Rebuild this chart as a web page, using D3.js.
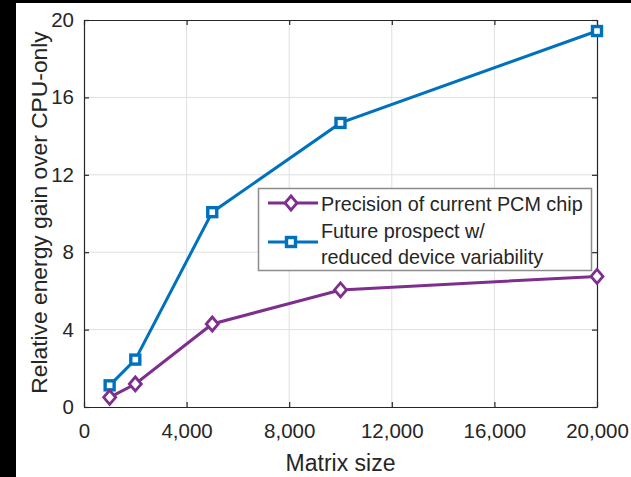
<!DOCTYPE html>
<html>
<head>
<meta charset="utf-8">
<script src="https://cdn.jsdelivr.net/npm/d3@7"></script>
<style>
  html, body { margin: 0; padding: 0; background: #000; }
  svg { display: block; }
  text { font-family: "Liberation Sans", Arial, Helvetica, sans-serif; fill: #262626; }
</style>
</head>
<body>
<script>
// Matrix sizes and the two energy-gain series
const matrixSizes = [1000, 2000, 5000, 10000, 20000];
const currentChip = [0.50, 1.19, 4.29, 6.05, 6.75];
const futureProspect = [1.12, 2.45, 10.07, 14.68, 19.43];
const xTicks = [0, 4000, 8000, 12000, 16000, 20000];
const yTicks = [0, 4, 8, 12, 16, 20];
const seriesNames = ["Precision of current PCM chip", ["Future prospect w/", "reduced device variability"]];

const W = 631, H = 477;
const svg = d3.select("body").append("svg").attr("width", W).attr("height", H);

// white canvas with dark strips at the left and top
svg.append("rect").attr("x", 0).attr("y", 0).attr("width", W).attr("height", H).attr("fill", "#000");
svg.append("rect").attr("x", 16).attr("y", 3).attr("width", W - 16).attr("height", H - 3).attr("fill", "#fff");

const L = 84, R = 597, T = 20, B = 407;
const x = d3.scaleLinear().domain([0, 20000]).range([L, R]);
const y = d3.scaleLinear().domain([0, 20]).range([B, T]);

// grid
const grid = svg.append("g").attr("stroke", "#dfdfdf").attr("stroke-width", 1);
xTicks.slice(1, -1).forEach(t => grid.append("line").attr("x1", x(t)).attr("x2", x(t)).attr("y1", T).attr("y2", B));
yTicks.slice(1, -1).forEach(t => grid.append("line").attr("x1", L).attr("x2", R).attr("y1", y(t)).attr("y2", y(t)));

// axes with inward ticks on all four sides
const fmt = d3.format(",");
const axB = svg.append("g").attr("transform", `translate(0,${B})`)
  .call(d3.axisBottom(x).tickValues(xTicks).tickFormat(fmt).tickSizeInner(-5).tickSizeOuter(0).tickPadding(16));
const axT = svg.append("g").attr("transform", `translate(0,${T})`)
  .call(d3.axisTop(x).tickValues(xTicks).tickFormat("").tickSizeInner(-5).tickSizeOuter(0));
const axL = svg.append("g").attr("transform", `translate(${L},0)`)
  .call(d3.axisLeft(y).tickValues(yTicks).tickSizeInner(-5).tickSizeOuter(0).tickPadding(10));
const axR = svg.append("g").attr("transform", `translate(${R},0)`)
  .call(d3.axisRight(y).tickValues(yTicks).tickFormat("").tickSizeInner(-5).tickSizeOuter(0));
[axB, axT, axL, axR].forEach(a => {
  a.selectAll(".domain").attr("stroke", "#262626").attr("stroke-width", 1.2);
  a.selectAll(".tick line").attr("stroke", "#262626").attr("stroke-width", 1.2);
  a.selectAll("text").attr("font-size", 20.5).attr("fill", "#262626")
    .style("font-family", '"Liberation Sans", Arial, sans-serif');
});

// axis titles
svg.append("text").attr("x", (L + R) / 2).attr("y", 471).attr("text-anchor", "middle")
  .attr("font-size", 23).text("Matrix size");
svg.append("text").attr("transform", `translate(47,${(T + B) / 2 - 1}) rotate(-90)`)
  .attr("text-anchor", "middle").attr("font-size", 22.8).text("Relative energy gain over CPU-only");

const purple = "#7E2F8E", blue = "#0072BD";
const line = d3.line().x(d => x(d[0])).y(d => y(d[1]));

function diamond(g, cx, cy, c) {
  g.append("path").attr("d", `M${cx},${cy - 7}L${cx + 6},${cy}L${cx},${cy + 7}L${cx - 6},${cy}Z`)
    .attr("fill", "#fff").attr("stroke", c).attr("stroke-width", 2.8);
}
function square(g, cx, cy, c) {
  g.append("rect").attr("x", cx - 4.5).attr("y", cy - 4.5).attr("width", 9).attr("height", 9)
    .attr("fill", "#fff").attr("stroke", c).attr("stroke-width", 3.4);
}

const plot = svg.append("g");
plot.append("path").datum(matrixSizes.map((m, i) => [m, futureProspect[i]]))
  .attr("d", line).attr("fill", "none").attr("stroke", blue).attr("stroke-width", 3);
plot.append("path").datum(matrixSizes.map((m, i) => [m, currentChip[i]]))
  .attr("d", line).attr("fill", "none").attr("stroke", purple).attr("stroke-width", 3);
matrixSizes.forEach((m, i) => square(plot, x(m), y(futureProspect[i]), blue));
matrixSizes.forEach((m, i) => diamond(plot, x(m), y(currentChip[i]), purple));

// legend
const lg = svg.append("g");
lg.append("rect").attr("x", 258.5).attr("y", 188.5).attr("width", 333).attr("height", 82)
  .attr("fill", "#fff").attr("stroke", "#8c8c8c").attr("stroke-width", 1.5);
lg.append("line").attr("x1", 268).attr("x2", 318).attr("y1", 203).attr("y2", 203)
  .attr("stroke", purple).attr("stroke-width", 3);
diamond(lg, 291, 203, purple);
lg.append("line").attr("x1", 268).attr("x2", 318).attr("y1", 242).attr("y2", 242)
  .attr("stroke", blue).attr("stroke-width", 3);
square(lg, 291, 242, blue);
lg.append("text").attr("x", 321).attr("y", 211).attr("font-size", 19.8).text(seriesNames[0]);
lg.append("text").attr("x", 321).attr("y", 238).attr("font-size", 19.8).text(seriesNames[1][0]);
lg.append("text").attr("x", 321).attr("y", 264).attr("font-size", 19.8).text(seriesNames[1][1]);
</script>
</body>
</html>
